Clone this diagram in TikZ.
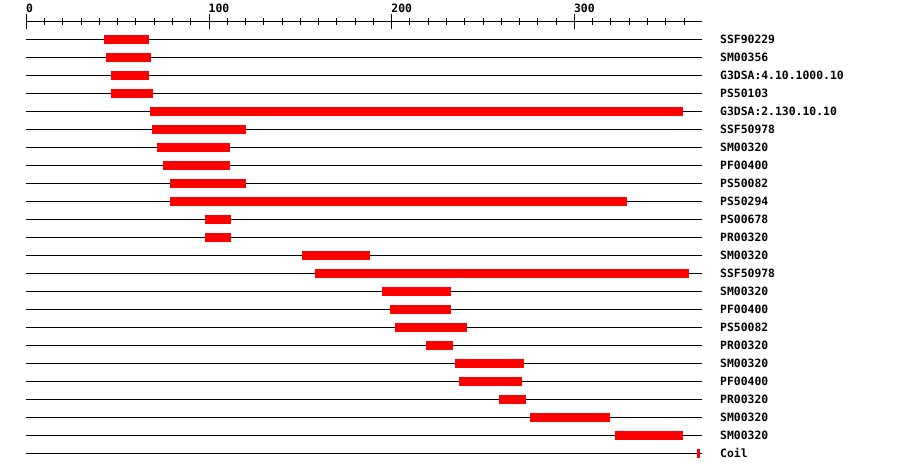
\documentclass[tikz,border=0pt]{standalone}
\usepackage{fontspec}
\newfontfamily\labfont{DejaVu Sans Mono}
\begin{document}
\begin{tikzpicture}[x=1pt,y=-1pt,
  track/.style={line width=1pt,black},
  hit/.style={fill=red,draw=none},
  lab/.style={font=\labfont\bfseries\fontsize{11.4}{12}\selectfont, anchor=base west, inner sep=0pt},
  tickmark/.style={line width=1pt,black}]
\useasboundingbox (0,0) rectangle (900,472);
\fill[white] (0,0) rectangle (900,472);
\coordinate (ax0) at (26,21);
\coordinate (ax1) at (702,21);
\draw[track] (ax0) -- (ax1);
\foreach \v in {0,10,...,360} {
  \draw[tickmark] (26.3+1.827*\v,18) -- (26.3+1.827*\v,25);
}
\foreach \v in {0,100,200,300} {
  \draw[tickmark] (26.3+1.827*\v,14) -- (26.3+1.827*\v,29);
  \node[lab] (t\v) at (26.3+1.827*\v-0.5,12) {\v};
}
\foreach [count=\i] \s/\e/\t in {
  104/149/SSF90229,
  106/151/SM00356,
  111/149/G3DSA:4.10.1000.10,
  111/153/PS50103,
  150/683/G3DSA:2.130.10.10,
  152/246/SSF50978,
  157/230/SM00320,
  163/230/PF00400,
  170/246/PS50082,
  170/627/PS50294,
  205/231/PS00678,
  205/231/PR00320,
  302/370/SM00320,
  315/689/SSF50978,
  382/451/SM00320,
  390/451/PF00400,
  395/467/PS50082,
  426/453/PR00320,
  455/524/SM00320,
  459/522/PF00400,
  499/526/PR00320,
  530/610/SM00320,
  615/683/SM00320,
  697/700/Coil} {
  \pgfmathsetmacro\y{39.3+18*(\i-1)}
  \coordinate (l\i) at (26,\y);
  \coordinate (r\i) at (702,\y);
  \draw[track] (l\i) -- (r\i);
  \fill[hit] (\s,\y-4.5) rectangle (\e,\y+4.5);
  \node[lab] (n\i) at (720,\y+4.1) {\t};
}
\end{tikzpicture}
\end{document}
